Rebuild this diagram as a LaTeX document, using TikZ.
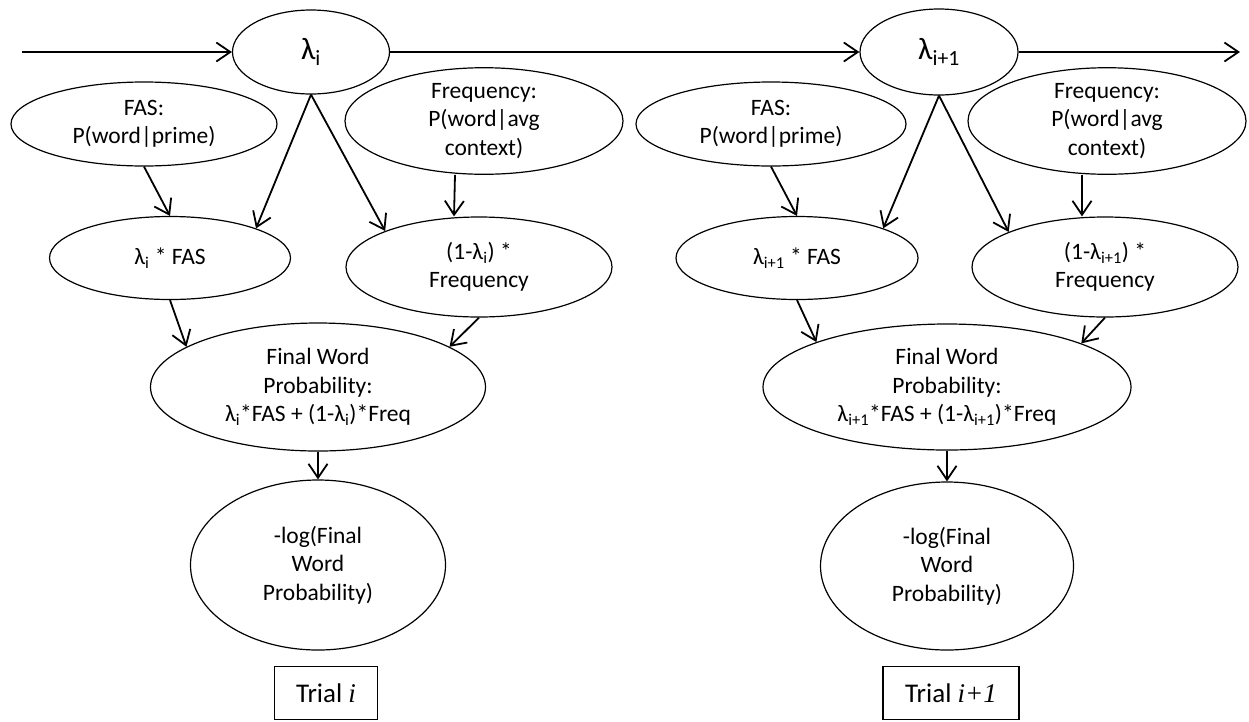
\documentclass[tikz,border=0pt]{standalone}
\usepackage{fontspec}
\setmainfont{Carlito}
\newfontfamily\tnr{Liberation Serif}
\usetikzlibrary{arrows.meta,calc,shapes.geometric}
\newcommand{\sbs}[1]{\textsubscript{#1}}
\begin{document}
\begin{tikzpicture}[x=1pt,y=-1pt,
  ell/.style={ellipse, draw, line width=1.2pt, inner sep=0pt, align=center,
    font=\fontsize{23.5}{28.5}\selectfont},
  lam/.style={ellipse, draw, line width=1.2pt, inner sep=0pt,
    font=\fontsize{31}{34}\selectfont},
  arr/.style={line width=1.8pt, -{Straight Barb[length=14pt,width=19pt,line width=1.8pt]}},
  trialbox/.style={draw, line width=1.2pt, inner sep=0pt, minimum height=53pt,
    font=\fontsize{27}{30}\selectfont}]
\useasboundingbox (0,0) rectangle (1249,721);

% ---------- trial i ----------
\node[lam, minimum width=157pt, minimum height=84pt] (lamL) at (311,52) {λ\sbs{i}};
\node[ell, minimum width=266pt, minimum height=84pt] (fasL) at (144,124) {FAS:\\P(word|prime)};
\node[ell, minimum width=278pt, minimum height=93pt] (freqL) at (484,121) {Frequency:\\P(word|avg\\context)};
\node[ell, minimum width=241pt, minimum height=83pt] (lfasL) at (170,258) {λ\sbs{i} * FAS};
\node[ell, minimum width=266pt, minimum height=100pt] (onemL) at (479,267) {(1-λ\sbs{i}) *\\Frequency};
\node[ell, minimum width=335pt, minimum height=128pt] (finL) at (318,387) {Final Word\\Probability:\\λ\sbs{i}*FAS + (1-λ\sbs{i})*Freq};
\node[ell, minimum width=255pt, minimum height=170pt] (logL) at (318,565) {-log(Final\\Word\\Probability)};
\node[trialbox, minimum width=103pt] (trialL) at (326,693) {Trial {\tnr\itshape i}};

% ---------- trial i+1 ----------
\node[lam, minimum width=158pt, minimum height=86pt] (lamR) at (939,52) {λ\sbs{i+1}};
\node[ell, minimum width=270pt, minimum height=84pt] (fasR) at (771,124) {FAS:\\P(word|prime)};
\node[ell, minimum width=278pt, minimum height=93pt] (freqR) at (1107,121) {Frequency:\\P(word|avg\\context)};
\node[ell, minimum width=242pt, minimum height=83pt] (lfasR) at (797,258) {λ\sbs{i+1} * FAS};
\node[ell, minimum width=266pt, minimum height=100pt] (onemR) at (1105,267) {(1-λ\sbs{i+1}) *\\Frequency};
\node[ell, minimum width=368pt, minimum height=126pt] (finR) at (947,387) {Final Word\\Probability:\\λ\sbs{i+1}*FAS + (1-λ\sbs{i+1})*Freq};
\node[ell, minimum width=253pt, minimum height=168pt] (logR) at (947,566) {-log(Final\\Word\\Probability)};
\node[trialbox, minimum width=136pt] (trialR) at (951,693) {Trial {\tnr\itshape i+1}};

\coordinate (start) at (22,52);
\coordinate (end) at (1240,52);

% ---------- connectors ----------
\draw[arr] (start) -- (lamL.west);
\draw[arr] (lamL.east) -- (lamR.west);
\draw[arr] (lamR.east) -- (end);

\draw[arr] (fasL.south) -- (lfasL.north);
\draw[arr] (lamL.south) -- (lfasL.19);
\draw[arr] (lamL.south) -- (onemL.159);
\draw[arr] ($(freqL.south)+(-29,0)$) -- ($(onemL.north)+(-25,0)$);
\draw[arr] (lfasL.south) -- (finL.163);
\draw[arr] (onemL.south) -- (finL.17);
\draw[arr] (finL.south) -- (logL.north);

\draw[arr] (fasR.south) -- (lfasR.north);
\draw[arr] (lamR.south) -- (lfasR.19);
\draw[arr] (lamR.south) -- (onemR.160);
\draw[arr] ($(freqR.south)+(-25,0)$) -- ($(onemR.north)+(-23,0)$);
\draw[arr] (lfasR.south) -- (finR.161);
\draw[arr] (onemR.south) -- (finR.18);
\draw[arr] (finR.south) -- (logR.north);
\end{tikzpicture}
\end{document}
